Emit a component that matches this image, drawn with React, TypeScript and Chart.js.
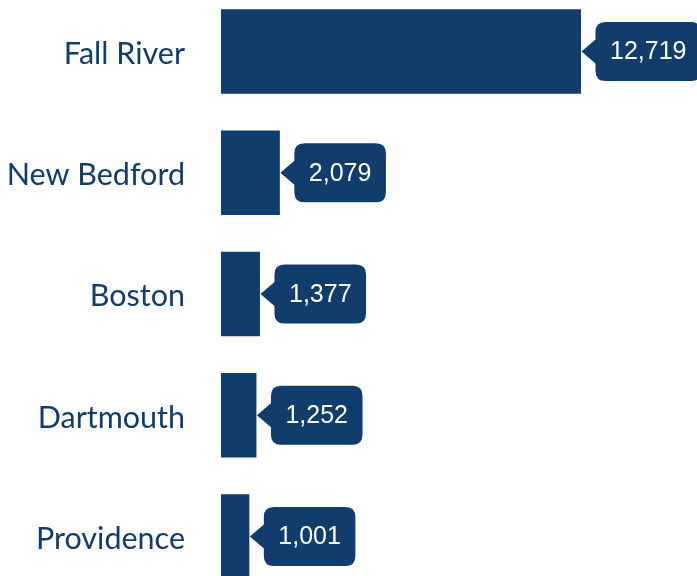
import React, { useEffect, useRef } from "react";
import { Chart, registerables } from "chart.js";

Chart.register(...registerables);

const categories = ["Fall River", "New Bedford", "Boston", "Dartmouth", "Providence"];
const values = [12719, 2079, 1377, 1252, 1001];
const xMax = 16818;

const BAR_COLOR = "#103d6c";

const calloutPlugin = {
  id: "callouts",
  afterDatasetsDraw(chart: any) {
    const ctx = chart.ctx as CanvasRenderingContext2D;
    const meta = chart.getDatasetMeta(0);
    ctx.save();
    ctx.font = '25px "Liberation Sans", Arial, sans-serif';
    meta.data.forEach((bar: any, i: number) => {
      const text = values[i].toLocaleString("en-US");
      const tw = ctx.measureText(text).width;
      const pad = 14.5;
      const h = 59;
      const w = tw + pad * 2;
      const tipX = bar.x + 0.5;
      const cy = bar.y;
      const bx = tipX + 14;
      const by = cy - h / 2;
      const r = 10;
      ctx.fillStyle = BAR_COLOR;
      ctx.beginPath();
      ctx.moveTo(bx + r, by);
      ctx.lineTo(bx + w - r, by);
      ctx.quadraticCurveTo(bx + w, by, bx + w, by + r);
      ctx.lineTo(bx + w, by + h - r);
      ctx.quadraticCurveTo(bx + w, by + h, bx + w - r, by + h);
      ctx.lineTo(bx + r, by + h);
      ctx.quadraticCurveTo(bx, by + h, bx, by + h - r);
      ctx.lineTo(bx, cy + 12);
      ctx.lineTo(tipX, cy);
      ctx.lineTo(bx, cy - 12);
      ctx.lineTo(bx, by + r);
      ctx.quadraticCurveTo(bx, by, bx + r, by);
      ctx.closePath();
      ctx.fill();
      ctx.fillStyle = "#ffffff";
      ctx.textAlign = "center";
      ctx.textBaseline = "middle";
      ctx.fillText(text, bx + w / 2, cy + 1);
    });
    ctx.restore();
  },
};

export default function App() {
  const ref = useRef<HTMLCanvasElement>(null);
  useEffect(() => {
    if (!ref.current) return;
    const chart = new Chart(ref.current, {
      type: "bar",
      data: {
        labels: categories,
        datasets: [
          {
            data: values,
            backgroundColor: BAR_COLOR,
            borderWidth: 0,
            barPercentage: 0.697,
            categoryPercentage: 1,
          },
        ],
      },
      options: {
        indexAxis: "y",
        animation: false,
        responsive: false,
        maintainAspectRatio: false,
        layout: { padding: 0 },
        plugins: { legend: { display: false }, tooltip: { enabled: false } },
        scales: {
          x: { display: false, min: 0, max: xMax },
          y: {
            afterFit(scale: any) {
              scale.width = 221;
              scale.paddingTop = 0;
              scale.paddingBottom = 0;
            },
            grid: { display: false, drawTicks: false },
            border: { display: false },
            ticks: {
              padding: 36,
              labelOffset: 2.5,
              color: BAR_COLOR,
              font: { family: "Lato", size: 30.5 },
            },
          },
        },
      },
      plugins: [calloutPlugin],
    });
    return () => chart.destroy();
  }, []);
  return (
    <div style={{ position: "absolute", left: 0, top: -9.15, width: 697, height: 606 }}>
      <canvas ref={ref} width={697} height={606} style={{ display: "block", width: 697, height: 606 }} />
    </div>
  );
}
